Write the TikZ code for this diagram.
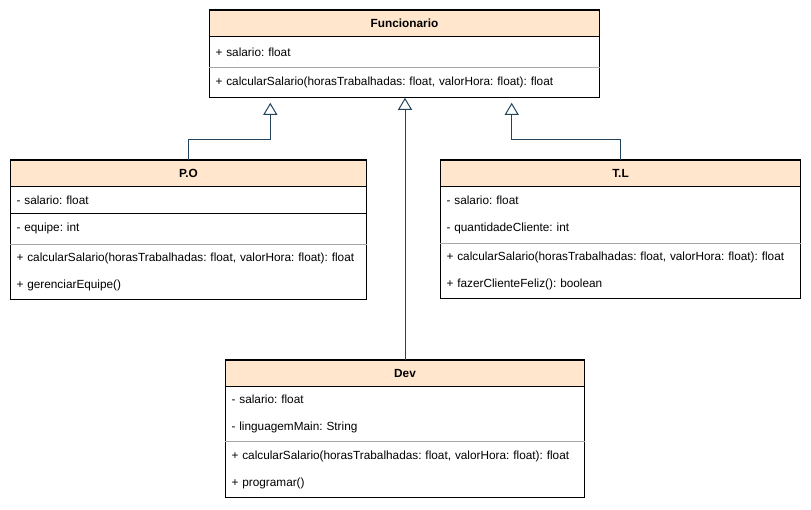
\documentclass[tikz,border=0pt]{standalone}
\usepackage{fontspec}
\setmainfont{Liberation Sans}
\usepackage{tikz}
\usetikzlibrary{arrows.meta}
\usetikzlibrary{positioning}
\frenchspacing
\definecolor{headfill}{HTML}{FFE6CC}
\definecolor{linkcol}{HTML}{23445D}
\tikzset{
    classhead/.style={
           rectangle,
           draw=black, line width=1pt,
           fill=headfill,
           font=\fontsize{11.8}{27}\selectfont\bfseries,
           inner sep=0pt,
           minimum height=26pt,
           anchor=north west,
           },
}
\tikzset{
    compart/.style={
           rectangle,
           align=left,
           inner xsep=6pt, inner ysep=0pt,
           },
}
\tikzset{
    inherit/.style={
           draw=linkcol, line width=1pt,
           -{Triangle[open,length=12pt,width=14pt]},
           },
}

\begin{document}
\begin{tikzpicture}[x=1pt,y=-1pt,font=\fontsize{11.8}{27}\selectfont]
\useasboundingbox (0,0) rectangle (811,510);
% Funcionario
\node[classhead,minimum width=390pt] (funchead) at (209,10) {Funcionario};
\node[compart,text width=378pt,minimum height=30pt,below=0pt of funchead] (funcattr) {+ salario: float};
\node[compart,text width=378pt,minimum height=30pt,below=0pt of funcattr] (funcmeth) {+ calcularSalario(horasTrabalhadas: float, valorHora: float): float};
\draw[line width=1pt] (funchead.north west) rectangle (funcmeth.south east);
\draw[gray!70] (funcmeth.north west) -- (funcmeth.north east);
% P.O
\node[classhead,minimum width=356pt] (pohead) at (10,160) {P.O};
\node[compart,text width=344pt,minimum height=26pt,below=0pt of pohead] (poattra) {- salario: float};
\node[compart,text width=344pt,minimum height=30pt,below=0pt of poattra] (poattrb) {- equipe: int};
\node[compart,text width=344pt,minimum height=55pt,below=0pt of poattrb] (pometh) {+ calcularSalario(horasTrabalhadas: float, valorHora: float): float\\+ gerenciarEquipe()};
\draw[line width=1pt] (pohead.north west) rectangle (pometh.south east);
\draw[line width=1pt] (poattra.south west) -- (poattra.south east);
\draw[gray!70] (pometh.north west) -- (pometh.north east);
% T.L
\node[classhead,minimum width=360pt] (tlhead) at (440,160) {T.L};
\node[compart,text width=348pt,minimum height=56pt,below=0pt of tlhead] (tlattr) {- salario: float\\- quantidadeCliente: int};
\node[compart,text width=348pt,minimum height=55pt,below=0pt of tlattr] (tlmeth) {+ calcularSalario(horasTrabalhadas: float, valorHora: float): float\\+ fazerClienteFeliz(): boolean};
\draw[line width=1pt] (tlhead.north west) rectangle (tlmeth.south east);
\draw[gray!70] (tlmeth.north west) -- (tlmeth.north east);
% Dev
\node[classhead,minimum width=359pt] (devhead) at (225,360) {Dev};
\node[compart,text width=347pt,minimum height=54pt,below=0pt of devhead] (devattr) {- salario: float\\- linguagemMain: String};
\node[compart,text width=347pt,minimum height=56pt,below=0pt of devattr] (devmeth) {+ calcularSalario(horasTrabalhadas: float, valorHora: float): float\\+ programar()};
\draw[line width=1pt] (devhead.north west) rectangle (devmeth.south east);
\draw[gray!70] (devmeth.north west) -- (devmeth.north east);
% heranca
\coordinate (potip) at ([xshift=61pt]funcmeth.south west);
\coordinate (tltip) at ([xshift=-88pt]funcmeth.south east);
\draw[inherit,shorten >=5pt] (pohead.north) -- ++(0,-20) -| (potip);
\draw[inherit,shorten >=5pt] (tlhead.north) -- ++(0,-20) -| (tltip);
\draw[inherit] (devhead.north) -- (devhead.north |- funcmeth.south);
\end{tikzpicture}
\end{document}
